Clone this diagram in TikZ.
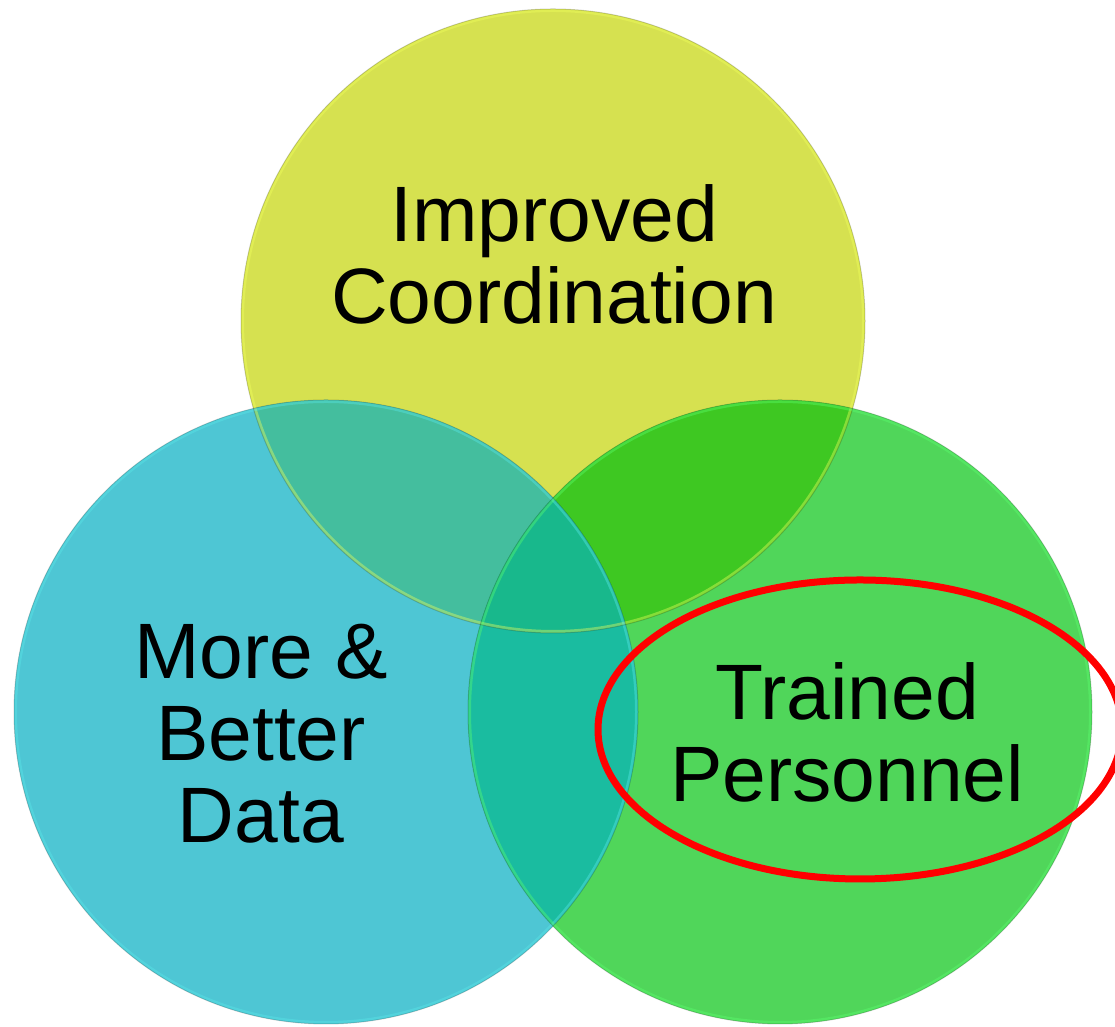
\documentclass[tikz,border=0pt]{standalone}
\usepackage{fontspec}
\setmainfont{Liberation Sans}

\definecolor{yel}{RGB}{214,225,80}
\definecolor{cya}{RGB}{78,198,212}
\definecolor{grn}{RGB}{80,214,90}
\definecolor{yelcya}{RGB}{68,190,158}
\definecolor{yelgrn}{RGB}{62,200,34}
\definecolor{cyagrn}{RGB}{26,188,160}
\definecolor{allthree}{RGB}{24,184,140}
\definecolor{yelrim}{RGB}{240,255,90}
\definecolor{cyarim}{RGB}{90,232,234}
\definecolor{grnrim}{RGB}{90,255,110}

\begin{document}
\begin{tikzpicture}[x=.5pt,y=.5pt,
		lbl/.style={align=center,anchor=base,font=\fontsize{39.3}{41}\selectfont},
		rim/.style={line width=1.5pt,opacity=.4},
		outline/.style={draw=black,draw opacity=.18,line width=.5pt}]
		\useasboundingbox (0,0) rectangle (1115,1027);
		\coordinate (top) at (553,706);
		\coordinate (left) at (326,315);
		\coordinate (right) at (780,315);
		
		% base discs
		\fill[yel] (top) circle (312);
		\fill[cya] (left) circle (312);
		\fill[grn] (right) circle (312);
		
		% overlaps
		\begin{scope} \clip (top) circle (312); \fill[yelcya] (left) circle (312); \end{scope}
		\begin{scope} \clip (top) circle (312); \fill[yelgrn] (right) circle (312); \end{scope}
		\begin{scope} \clip (left) circle (312); \fill[cyagrn] (right) circle (312); \end{scope}
		\begin{scope} \clip (top) circle (312); \clip (left) circle (312); \fill[allthree] (right) circle (312); \end{scope}
		
		% rims
		\draw[rim,yelrim] (top) circle (310.5);
		\draw[rim,cyarim] (left) circle (310.5);
		\draw[rim,grnrim] (right) circle (310.5);
		\draw[outline] (top) circle (312);
		\draw[outline] (left) circle (312);
		\draw[outline] (right) circle (312);
		
		\node[lbl] (coord) at (554,703) {Improved\\Coordination};
		\node[lbl] (data) at (261,184) {More \&\\Better\\Data};
		\node[lbl] (staff) at (847,225) {Trained\\Personnel};
		
		\draw[red,line width=3.5pt] (860,297.5) ellipse [x radius=262,y radius=149.5];
\end{tikzpicture}
\end{document}
